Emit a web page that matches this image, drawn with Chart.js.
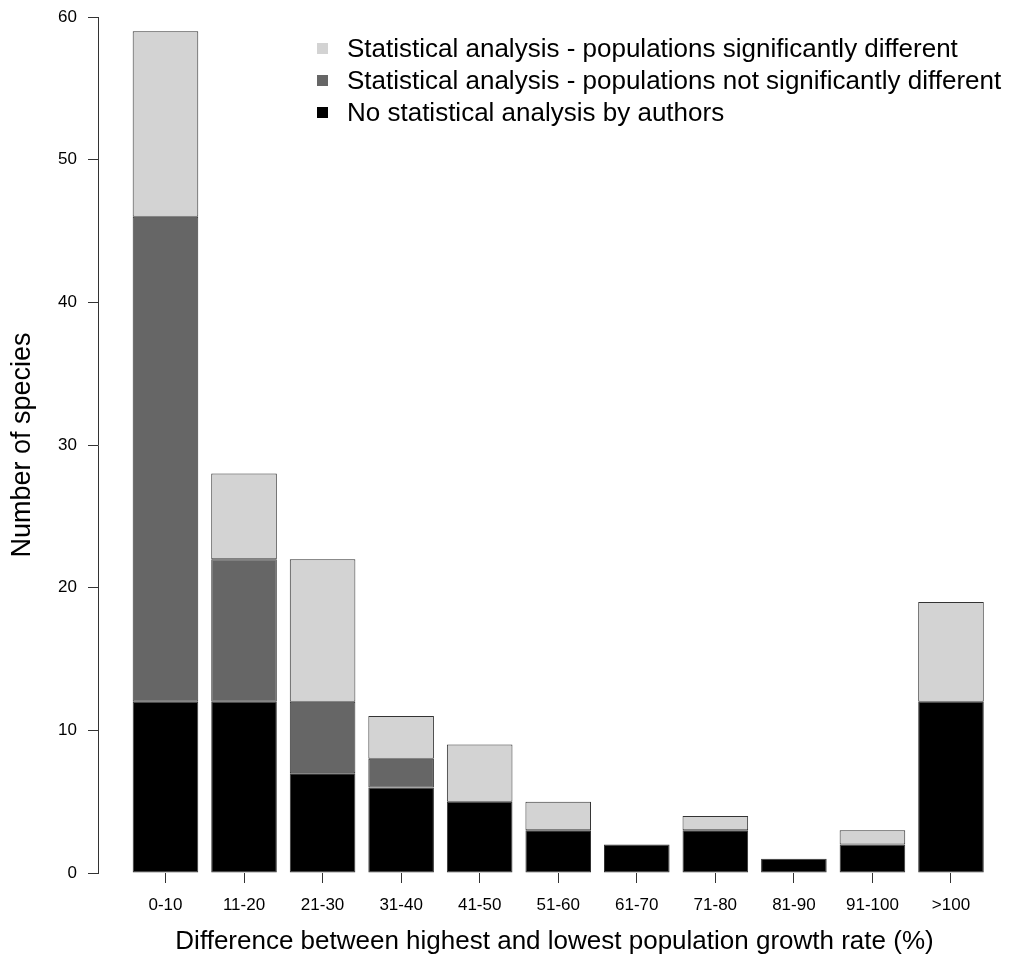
<!DOCTYPE html>
<html>
<head>
<meta charset="utf-8">
<script src="https://cdn.jsdelivr.net/npm/chart.js@4.4.1/dist/chart.umd.min.js"></script>
<style>
    body { margin: 0; background: #fff; }
    #wrap { position: relative; width: 1011px; height: 957px; }
    #legend {
        position: absolute;
        left: 317px;
        top: 32px;
        font-family: 'Liberation Sans', Arial, Helvetica, sans-serif;
        font-size: 26px;
        color: #000;
    }
    .item { height: 32px; line-height: 32px; white-space: nowrap; }
    .sw { display: inline-block; width: 11px; height: 11px; margin-right: 19px; vertical-align: middle; position: relative; top: -2px; }
</style>
</head>
<body>
<div id="wrap">
    <canvas id="chart" width="1011" height="957"></canvas>
    <div id="legend"></div>
</div>
<script>
const categories = ['0-10', '11-20', '21-30', '31-40', '41-50', '51-60', '61-70', '71-80', '81-90', '91-100', '>100'];
const noAnalysis = [12, 12, 7, 6, 5, 3, 2, 3, 1, 2, 12];
const notDifferent = [34, 10, 5, 2, 0, 0, 0, 0, 0, 0, 0];
const different = [13, 6, 10, 3, 4, 2, 0, 1, 0, 1, 7];
const yTicks = [0, 10, 20, 30, 40, 50, 60];

const font = "'Liberation Sans', Arial, Helvetica, sans-serif";

function toPoints(values) {
    return values.map((v, i) => ({ x: i, y: v }));
}

const ctx = document.getElementById('chart').getContext('2d');

const myChart = new Chart(ctx, {
    type: 'bar',
    data: {
        datasets: [
            {
                label: 'No statistical analysis by authors',
                data: toPoints(noAnalysis),
                backgroundColor: '#000000'
            },
            {
                label: 'Statistical analysis - populations not significantly different',
                data: toPoints(notDifferent),
                backgroundColor: '#666666'
            },
            {
                label: 'Statistical analysis - populations significantly different',
                data: toPoints(different),
                backgroundColor: '#d3d3d3'
            }
        ]
    },
    options: {
        responsive: false,
        animation: false,
        devicePixelRatio: 1,
        layout: { padding: { left: 0, right: 0, top: 17, bottom: 0 } },
        datasets: {
            bar: {
                borderColor: '#333333',
                borderWidth: 1,
                borderSkipped: false,
                categoryPercentage: 1,
                barPercentage: 0.835
            }
        },
        plugins: {
            legend: { display: false },
            tooltip: { enabled: false }
        },
        scales: {
            x: {
                type: 'linear',
                stacked: true,
                offset: false,
                min: -0.859,
                max: 10.764,
                afterBuildTicks: function(scale) {
                    scale.ticks = categories.map((c, i) => ({ value: i }));
                },
                afterFit: function(scale) {
                    scale.height = 84;
                    scale.paddingLeft = 0;
                    scale.paddingRight = 0;
                },
                border: { display: false },
                grid: {
                    offset: false,
                    drawOnChartArea: false,
                    drawTicks: true,
                    tickLength: 10,
                    color: '#333333'
                },
                ticks: {
                    autoSkip: false,
                    maxRotation: 0,
                    padding: 12,
                    color: '#000',
                    font: { family: font, size: 17 },
                    callback: function(value) {
                        return categories[value];
                    }
                },
                title: {
                    display: true,
                    text: 'Difference between highest and lowest population growth rate (%)',
                    color: '#000',
                    font: { family: font, size: 26 },
                    padding: { top: 0, bottom: 0 }
                }
            },
            y: {
                stacked: true,
                min: 0,
                max: 60,
                afterBuildTicks: function(scale) {
                    scale.ticks = yTicks.map(v => ({ value: v }));
                },
                afterFit: function(scale) {
                    scale.width = 98;
                    scale.paddingTop = 0;
                    scale.paddingBottom = 0;
                },
                border: { display: true, color: '#333333', width: 1 },
                grid: {
                    drawOnChartArea: false,
                    drawTicks: true,
                    tickLength: 10,
                    color: '#333333'
                },
                ticks: {
                    padding: 11,
                    color: '#000',
                    font: { family: font, size: 17 }
                },
                title: {
                    display: true,
                    text: 'Number of species',
                    color: '#000',
                    font: { family: font, size: 27 },
                    padding: { top: 6, bottom: 0 }
                }
            }
        }
    }
});

// legend, top row is the top segment of the stack
const legendDiv = document.getElementById('legend');
myChart.data.datasets.slice().reverse().forEach(ds => {
    const row = document.createElement('div');
    row.className = 'item';
    row.innerHTML = '<span class="sw" style="background:' + ds.backgroundColor + '"></span>' + ds.label;
    legendDiv.appendChild(row);
});
</script>
</body>
</html>
